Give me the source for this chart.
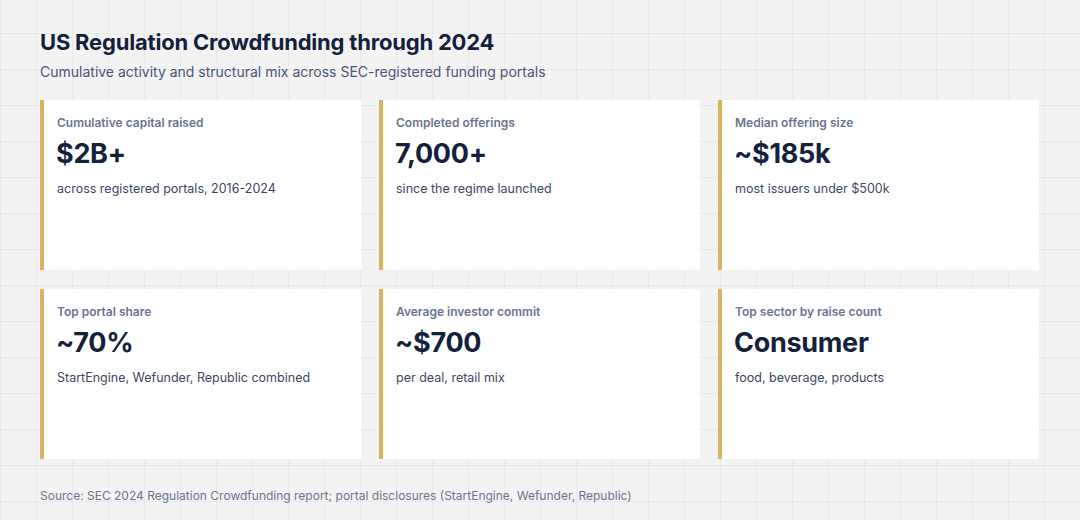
<!DOCTYPE html>
<html><head><meta charset="utf-8">
<script src="https://cdn.jsdelivr.net/npm/chart.js@4"></script>
<style>
html,body{margin:0;width:1080px;height:520px;overflow:hidden;font-family:Inter,"Noto Sans",sans-serif;}
body{background-color:#f3f3f3;background-image:linear-gradient(#e8e8e8 1px,transparent 1px),linear-gradient(90deg,#e8e8e8 1px,transparent 1px);background-size:36px 36px;background-position:0 -3px;position:relative}
h1{position:absolute;left:40px;top:29px;margin:0;font-size:22px;font-weight:700;color:#14213d;letter-spacing:-0.2px}
.sub{position:absolute;left:40px;top:63px;font-size:14px;color:#4a5578}
.card{position:absolute;width:317px;height:170px;background:#fff;border-left:4px solid #d9b262;box-sizing:content-box}
.lab{position:absolute;left:13px;top:15px;font-size:12px;font-weight:600;color:#6b7390}
.val{position:absolute;left:12px;top:37px;font-size:27px;font-weight:700;color:#14213d;letter-spacing:-0.3px}
.note{position:absolute;left:13px;top:81px;font-size:12.5px;color:#3d4663}
.src{position:absolute;left:40px;top:488px;font-size:12px;color:#6b7390}
</style></head><body>
<h1 id="t"></h1><div class="sub" id="s"></div>
<div id="cards"></div>
<div class="src" id="src"></div>
<script>
const title = "US Regulation Crowdfunding through 2024";
const subtitle = "Cumulative activity and structural mix across SEC-registered funding portals";
const labels = ["Cumulative capital raised","Completed offerings","Median offering size","Top portal share","Average investor commit","Top sector by raise count"];
const values = ["$2B+","7,000+","~$185k","~70%","~$700","Consumer"];
const notes = ["across registered portals, 2016-2024","since the regime launched","most issuers under $500k","StartEngine, Wefunder, Republic combined","per deal, retail mix","food, beverage, products"];
const source = "Source: SEC 2024 Regulation Crowdfunding report; portal disclosures (StartEngine, Wefunder, Republic)";
document.getElementById('t').textContent=title;
document.getElementById('s').textContent=subtitle;
document.getElementById('src').textContent=source;
const c=document.getElementById('cards');
const lefts=[40,379,718], tops=[100,289];
labels.forEach((l,i)=>{
  const d=document.createElement('div');d.className='card';
  d.style.left=lefts[i%3]+'px';d.style.top=tops[Math.floor(i/3)]+'px';
  d.innerHTML='<div class="lab"></div><div class="val"></div><div class="note"></div>';
  d.children[0].textContent=l;d.children[1].textContent=values[i];d.children[2].textContent=notes[i];
  c.appendChild(d);
});
</script></body></html>
